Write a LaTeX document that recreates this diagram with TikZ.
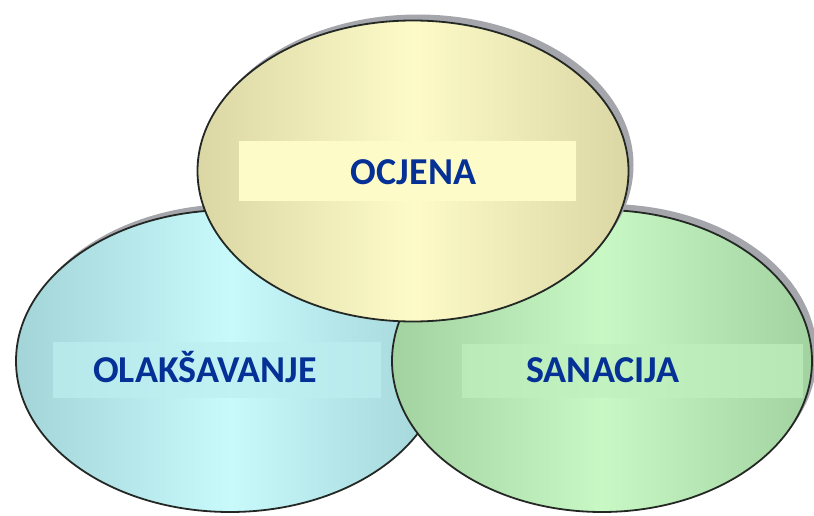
\documentclass[tikz,border=0pt]{standalone}
\usepackage{fontspec}
\setmainfont{Carlito}
\usetikzlibrary{shapes.geometric,shadows}

\definecolor{natpisplava}{RGB}{5,48,150}
\definecolor{obrub}{RGB}{36,40,36}
\definecolor{sjena}{RGB}{165,165,172}
\definecolor{zutarub}{RGB}{218,215,165}
\definecolor{zutasred}{RGB}{253,251,200}
\definecolor{plavarub}{RGB}{162,212,216}
\definecolor{plavasred}{RGB}{200,250,252}
\definecolor{zelenarub}{RGB}{162,210,160}
\definecolor{zelenasred}{RGB}{200,248,196}

\begin{document}
\begin{tikzpicture}[x=1pt, y=-1pt,
	krug/.style={ellipse, draw=obrub, line width=1.8pt, inner sep=0pt,
		drop shadow={shadow xshift=5pt, shadow yshift=6pt, fill=sjena, opacity=1}},
	okvir/.style={rectangle, inner sep=0pt, draw=none},
	natpis/.style={anchor=base, text=natpisplava, font=\fontsize{38}{42}\selectfont\bfseries}]
					\useasboundingbox (0,0) rectangle (814,516);
					
					\node[krug, minimum width=428pt, minimum height=302pt, left color=plavarub, right color=plavarub, middle color=plavasred] (olak) at (230,361){};
					\node[krug, minimum width=420pt, minimum height=302pt, left color=zelenarub, right color=zelenarub, middle color=zelenasred] (sana) at (602,361){};
					\node[krug, minimum width=431pt, minimum height=301pt, left color=zutarub, right color=zutarub, middle color=zutasred] (ocje) at (413,171){};
					
					\node[okvir, fill=zutasred, minimum width=337pt, minimum height=60pt] (ocjeokvir) at (407.5,171){};
					\node[okvir, fill=plavasred!70!plavarub, opacity=0.7, minimum width=328pt, minimum height=56pt] (olakokvir) at (217,370){};
					\node[okvir, fill=zelenasred!80!zelenarub, opacity=0.7, minimum width=341pt, minimum height=54pt] (sanaokvir) at (632.5,371){};
					
					\node[natpis] (ocjenatpis) at (413.5,185){OCJENA};
					\node[natpis] (olaknatpis) at (205,382){OLAKŠAVANJE};
					\node[natpis] (sananatpis) at (603,382){SANACIJA};
					\end{tikzpicture}
\end{document}
